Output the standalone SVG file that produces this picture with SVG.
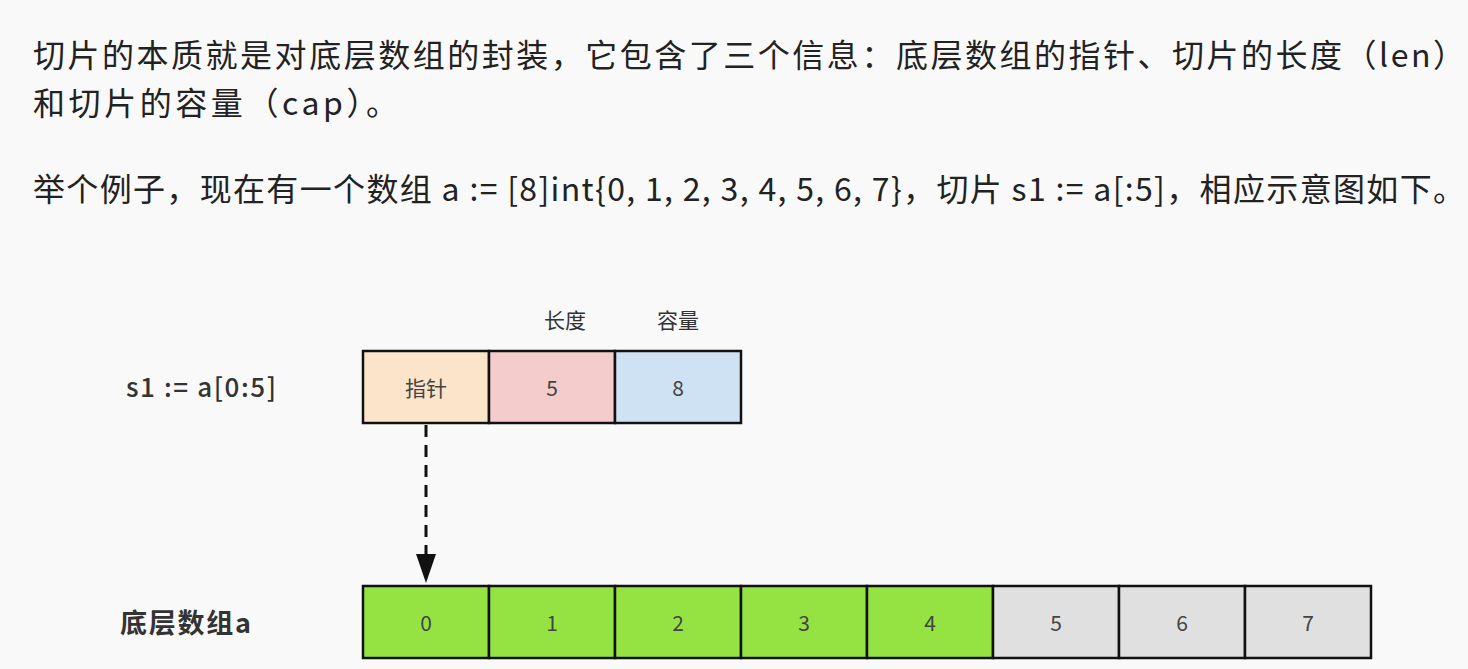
<svg xmlns="http://www.w3.org/2000/svg" width="1468" height="669" viewBox="0 0 1468 669">
<defs>
<style>
.para{font-family:"Noto Sans CJK SC","Noto Sans",sans-serif;font-size:32px;fill:#222;}
.lbl{font-family:"Noto Sans CJK SC","Noto Sans",sans-serif;fill:#333;}
.cell{stroke:#111;stroke-width:2.5;}
.ct{font-family:"Noto Sans CJK SC","Noto Sans",sans-serif;font-size:21px;fill:#444;text-anchor:middle;dominant-baseline:central;}
.g{fill:#95e343;}
.gr{fill:#e0e0e0;}
</style>
</defs>
<rect width="1468" height="669" fill="#f9f9f9"/>
<g id="paragraph">
<text class="para" x="33" y="67" textLength="1432" lengthAdjust="spacing">切片的本质就是对底层数组的封装，它包含了三个信息：底层数组的指针、切片的长度（len）</text>
<text class="para" x="33" y="115" textLength="365" lengthAdjust="spacing">和切片的容量（cap）。</text>
<text class="para" x="33" y="201" textLength="1432" lengthAdjust="spacing">举个例子，现在有一个数组 a := [8]int{0, 1, 2, 3, 4, 5, 6, 7}，切片 s1 := a[:5]，相应示意图如下。</text>
</g>
<g id="label-s1"><text class="lbl" x="126" y="397" font-size="26" font-weight="500" textLength="150" lengthAdjust="spacing">s1 := a[0:5]</text></g>
<g id="label-len"><text class="lbl" x="565" y="328" font-size="21" text-anchor="middle">长度</text></g>
<g id="label-cap"><text class="lbl" x="678" y="328" font-size="21" text-anchor="middle">容量</text></g>
<g id="slice">
<g id="s-ptr"><rect class="cell" x="363" y="351" width="126" height="72" fill="#fbe4c9"/><text class="ct" x="426" y="387">指针</text></g>
<g id="s-len"><rect class="cell" x="489" y="351" width="126" height="72" fill="#f4cccc"/><text class="ct" x="552" y="387">5</text></g>
<g id="s-cap"><rect class="cell" x="615" y="351" width="126" height="72" fill="#cfe2f3"/><text class="ct" x="678" y="387">8</text></g>
</g>
<g id="label-array"><text class="lbl" x="120" y="633" font-size="27" font-weight="bold" textLength="131" lengthAdjust="spacing">底层数组a</text></g>
<g id="array">
<g id="a0"><rect class="cell g" x="363" y="586" width="126" height="72"/><text class="ct" x="426" y="622">0</text></g>
<g id="a1"><rect class="cell g" x="489" y="586" width="126" height="72"/><text class="ct" x="552" y="622">1</text></g>
<g id="a2"><rect class="cell g" x="615" y="586" width="126" height="72"/><text class="ct" x="678" y="622">2</text></g>
<g id="a3"><rect class="cell g" x="741" y="586" width="126" height="72"/><text class="ct" x="804" y="622">3</text></g>
<g id="a4"><rect class="cell g" x="867" y="586" width="126" height="72"/><text class="ct" x="930" y="622">4</text></g>
<g id="a5"><rect class="cell gr" x="993" y="586" width="126" height="72"/><text class="ct" x="1056" y="622">5</text></g>
<g id="a6"><rect class="cell gr" x="1119" y="586" width="126" height="72"/><text class="ct" x="1182" y="622">6</text></g>
<g id="a7"><rect class="cell gr" x="1245" y="586" width="126" height="72"/><text class="ct" x="1308" y="622">7</text></g>
</g>
<g id="connectors">
<line x1="426" y1="425" x2="426" y2="556" stroke="#111" stroke-width="3" stroke-dasharray="12,8"/>
<path d="M416,554 L436,554 L426,583 z" fill="#111"/>
</g>
</svg>
